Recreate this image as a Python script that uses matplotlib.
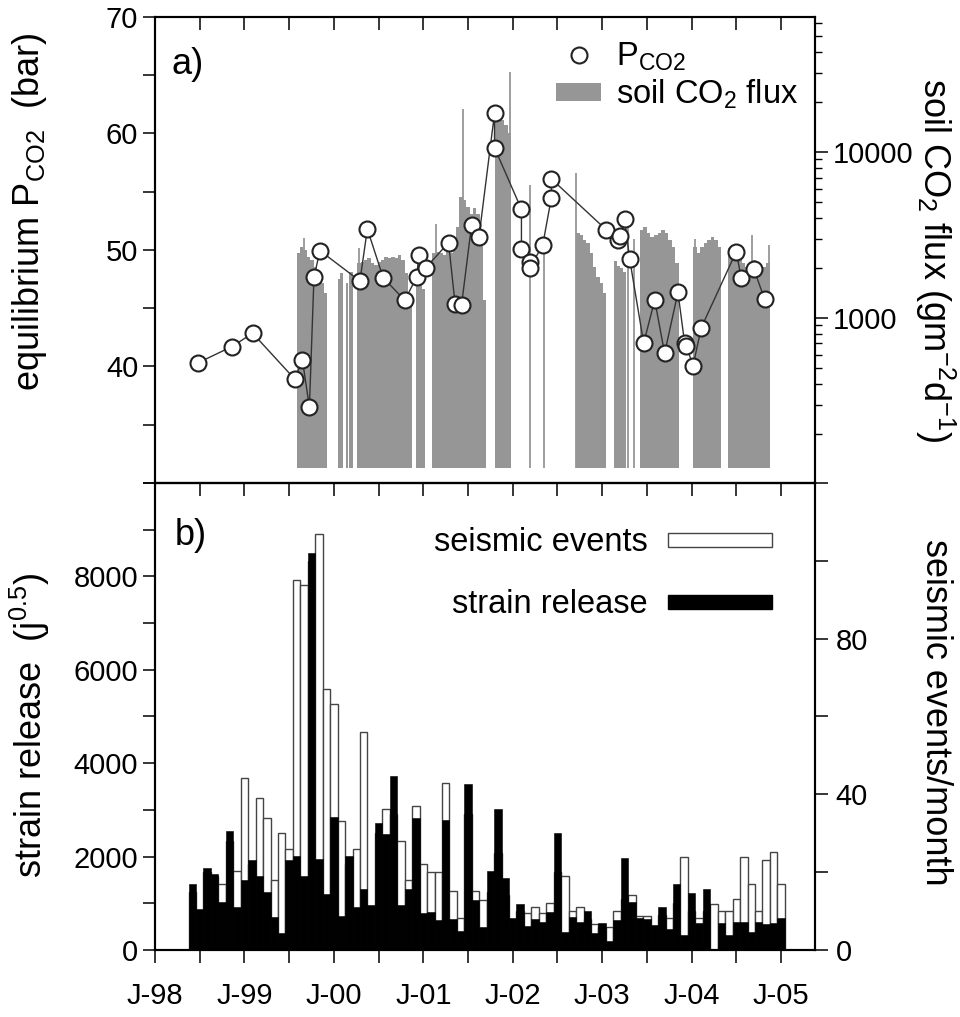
import numpy as np
import pandas as pd
import matplotlib
matplotlib.use('Agg')
import matplotlib.pyplot as plt
from matplotlib.patches import Patch
from matplotlib.lines import Line2D
from matplotlib.ticker import FixedLocator, MultipleLocator, LogLocator, NullFormatter, FuncFormatter

plt.rcParams['font.family'] = ['Liberation Sans', 'DejaVu Sans']
plt.rcParams['mathtext.fontset'] = 'custom'
plt.rcParams['mathtext.rm'] = 'Liberation Sans'
plt.rcParams['mathtext.it'] = 'Liberation Sans:italic'
plt.rcParams['mathtext.bf'] = 'Liberation Sans:bold'

# ---------------------------------------------------------------
# panel a: equilibrium PCO2 samples (decimal year, bar)
# ---------------------------------------------------------------
pco2_date = [1998.477, 1998.857, 1999.092, 1999.564, 1999.648, 1999.726, 1999.777,
             1999.844, 2000.291, 2000.374, 2000.551, 2000.793, 2000.924, 2000.952,
             2001.028, 2001.282, 2001.355, 2001.427, 2001.539, 2001.622, 2001.796,
             2001.796, 2002.097, 2002.097, 2002.190, 2002.190, 2002.335, 2002.432,
             2002.432, 2003.047, 2003.177, 2003.196, 2003.251, 2003.307, 2003.464,
             2003.587, 2003.698, 2003.847, 2003.922, 2003.941, 2004.015, 2004.108,
             2004.499, 2004.555, 2004.696, 2004.816]
pco2_val = [40.3, 41.7, 42.85, 38.9, 40.56, 36.5, 47.66,
            49.94, 47.34, 51.8, 47.62, 45.68, 47.66, 49.57,
            48.48, 50.63, 45.38, 45.25, 52.13, 51.1, 61.73,
            58.78, 53.49, 50.1, 49.0, 48.45, 50.43, 54.5,
            56.1, 51.72, 50.86, 51.23, 52.63, 49.23, 41.99,
            45.71, 41.13, 46.37, 41.99, 41.8, 40.04, 43.33,
            49.86, 47.57, 48.37, 45.77]

# soil CO2 flux (g m-2 d-1): continuous records, values read along each record
flux_start = [1999.583, 2000.041, 2000.134, 2000.171, 2000.260, 2000.913, 2001.101,
              2001.796, 2002.712, 2003.128, 2003.419, 2004.015, 2004.406]
flux_end = [1999.927, 2000.097, 2000.160, 2000.209, 2000.868, 2001.017, 2001.706,
            2001.978, 2003.047, 2003.270, 2003.858, 2004.332, 2004.872]
flux_vals = [
    [2450, 2680, 2560, 2340, 2230, 2030, 1690, 1615, 1410],
    [1720, 1850],
    [1620],
    [1900],
    [2130, 2180, 2230, 2280, 2130, 2090, 2180, 2230, 2340, 2280, 2340, 2280, 2390, 2230, 1855, 1283],
    [1580, 1770, 1500],
    [2450, 2500, 2450, 2390, 2500, 2450, 2560, 3540, 5350, 5110, 4660, 4250, 4560, 4250, 3230, 1283],
    [15800, 16500, 15500, 14500, 13000],
    [3230, 3150, 2940, 2810, 2450, 2030, 1770, 1615, 1410],
    [2200, 2050, 2000, 1900],
    [3380, 3540, 3230, 3080, 3150, 3230, 3380, 3230, 2940, 2680, 2130],
    [2680, 2450, 2680, 2810, 2940, 3080, 2940, 2680],
    [2620, 2745, 2560, 2450, 2130, 2030, 2130, 2230, 2030, 1940, 2030, 2130],
]
# single high daily readings
spike_date = [1999.665, 2000.283, 2001.147, 2001.445, 2001.966, 2002.198, 2002.346,
              2002.712, 2003.291, 2003.358, 2004.034, 2004.678, 2004.864]
spike_val = [3010, 2620, 3670, 18200, 30100, 6300, 2630,
             7470, 3540, 3000, 2970, 3150, 2745]
flux_floor = 125

# ---------------------------------------------------------------
# panel b: monthly seismicity, June 1998 - January 2005
# ---------------------------------------------------------------
first_month = '1998-06'
strain = [1419, 888, 1748, 1634, 1017, 2544, 931, 1505, 1920, 1591,
          1232, 703, 372, 1920, 2021, 1591, 8509, 1950, 1204, 2845,
          731, 2006, 931, 1305, 953, 2725, 2488, 3727, 953, 1305,
          2832, 789, 811, 645, 2774, 660, 409, 3563, 1075, 495,
          1684, 3011, 1542, 682, 989, 516, 660, 609, 811, 2510,
          387, 716, 609, 845, 372, 574, 194, 645, 1972, 1021,
          682, 667, 538, 931, 445, 1419, 323, 1219, 574, 1305,
          0, 574, 323, 609, 596, 394, 609, 559, 574, 682]
events = [15, 10, 20, 19, 17.0, 28, 20.2, 44.1, 22, 39.1,
          33.9, 18.0, 30.1, 26.0, 95.1, 93.9, 100, 106.9, 67.0, 63.1,
          33.1, 22, 25.9, 56.1, 10, 30, 36.1, 35, 28.1, 18.0,
          37.1, 22.1, 20.0, 20.0, 43.0, 15.2, 8.2, 35, 15.2, 12.9,
          15, 25, 14, 7, 10, 9.5, 11.0, 9.5, 12.0, 20,
          19.1, 10.1, 11.0, 8, 6.7, 6, 6.0, 10.1, 13, 14.0,
          8.8, 8.8, 5, 9, 8.2, 12, 23.9, 10, 8.2, 10,
          11.9, 9.9, 9.9, 13.1, 23.9, 16.9, 10.1, 23.0, 25.1, 17.0]

year_ticks = [1998, 1999, 2000, 2001, 2002, 2003, 2004, 2005]
year_labels = ['J-98', 'J-99', 'J-00', 'J-01', 'J-02', 'J-03', 'J-04', 'J-05']
pco2_ticks = [40, 50, 60, 70]
strain_ticks = [0, 2000, 4000, 6000, 8000]
events_ticks = [0, 40, 80]

FLUX_GREY = '#969696'
TICK_FS = 21
LABEL_FS = 26
LEG_FS = 23.5

months = pd.period_range(first_month, periods=len(strain), freq='M')
month_pos = np.array([m.year + (m.month - 1) / 12 for m in months])

fig = plt.figure(figsize=(9.6, 10.17), dpi=100)
ax_a = fig.add_axes([0.1615, 0.5251, 0.6875, 0.4582])
ax_f = ax_a.twinx()
ax_b = fig.add_axes([0.1615, 0.0659, 0.6875, 0.4592])
ax_e = ax_b.twinx()

# --- panel a
ax_f.set_yscale('log')
for s, e, vals in zip(flux_start, flux_end, flux_vals):
    edges = np.linspace(s, e, len(vals) + 1)
    ax_f.bar(edges[:-1], np.array(vals) - flux_floor, width=np.diff(edges),
             bottom=flux_floor, align='edge', color=FLUX_GREY, linewidth=0)
ax_f.vlines(spike_date, flux_floor, spike_val, color=FLUX_GREY, lw=1.3)
ax_f.set_ylim(101, 65000)

ax_a.plot(pco2_date, pco2_val, '-', color='#333333', lw=1.0, zorder=2)
ax_a.plot(pco2_date, pco2_val, 'o', ms=11.5, mfc='white', mec='#222222', mew=1.5, zorder=3)
ax_a.set_zorder(ax_f.get_zorder() + 1)
ax_a.patch.set_visible(False)
ax_a.set_ylim(30, 70)

# --- panel b
ax_e.bar(month_pos, events, width=1 / 12, color='white', edgecolor='#444444', linewidth=1.0)
ax_b.bar(month_pos, strain, width=1 / 12, color='black', edgecolor='black', linewidth=0.4)
ax_b.set_zorder(ax_e.get_zorder() + 1)
ax_b.patch.set_visible(False)
ax_b.set_ylim(0, 10000)
ax_e.set_ylim(0, 120)

# --- axes cosmetics
for ax in (ax_a, ax_b):
    ax.set_xlim(1998.0, 2005.38)
    ax.xaxis.set_major_locator(FixedLocator(year_ticks))
    ax.xaxis.set_minor_locator(FixedLocator([y + 0.5 for y in year_ticks]))
for ax in (ax_a, ax_f, ax_b, ax_e):
    for sp in ax.spines.values():
        sp.set_linewidth(1.5)

tick_kw = dict(length=9, width=1.1, labelsize=TICK_FS)
ax_a.yaxis.set_major_locator(FixedLocator(pco2_ticks))
ax_a.yaxis.set_minor_locator(MultipleLocator(5))
ax_a.tick_params(axis='y', which='both', direction='out', pad=3, **tick_kw)
ax_a.tick_params(axis='x', which='both', bottom=False, top=True, direction='in',
                 labelbottom=False, length=9, width=1.1)

ax_f.yaxis.set_major_locator(LogLocator(base=10))
ax_f.yaxis.set_minor_locator(LogLocator(base=10, subs=np.arange(2, 10)))
ax_f.yaxis.set_major_formatter(FuncFormatter(lambda v, p: '%d' % v))
ax_f.yaxis.set_minor_formatter(NullFormatter())
ax_f.tick_params(axis='y', which='major', direction='out', pad=4, **tick_kw)
ax_f.tick_params(axis='y', which='minor', direction='out', length=5, width=1.0)

ax_b.yaxis.set_major_locator(FixedLocator(strain_ticks))
ax_b.yaxis.set_minor_locator(MultipleLocator(1000))
ax_b.tick_params(axis='y', which='both', direction='out', pad=3, **tick_kw)
ax_b.xaxis.set_ticklabels(year_labels)
ax_b.tick_params(axis='x', which='both', bottom=True, top=False, direction='out',
                 pad=14, **tick_kw)

ax_e.yaxis.set_major_locator(FixedLocator(events_ticks))
ax_e.yaxis.set_minor_locator(MultipleLocator(20))
ax_e.tick_params(axis='y', which='both', direction='out', pad=6, **tick_kw)
ax_e.xaxis.set_visible(True)
ax_e.tick_params(axis='x', which='both', bottom=False, top=True, direction='in',
                 labelbottom=False, labeltop=False, length=9, width=1.1)

# --- panel letters and axis titles
ax_a.text(0.025, 0.935, 'a)', transform=ax_a.transAxes, fontsize=26, va='top')
ax_b.text(0.03, 0.925, 'b)', transform=ax_b.transAxes, fontsize=26, va='top')

fig.text(0.031, 0.7915, r'equilibrium P$_{\mathrm{CO2}}$  (bar)', rotation=90,
         ha='center', va='center', fontsize=LABEL_FS)
fig.text(0.031, 0.287, r'strain release  (j$^{0.5}$)', rotation=90,
         ha='center', va='center', fontsize=LABEL_FS)
fig.text(0.974, 0.744, r'soil CO$_2$ flux (gm$^{-2}$d$^{-1}$)', rotation=270,
         ha='center', va='center', fontsize=LABEL_FS)
fig.text(0.974, 0.30, 'seismic events/month', rotation=270,
         ha='center', va='center', fontsize=LABEL_FS)

# --- legends
h_a = [Line2D([], [], ls='none', marker='o', ms=11.5, mfc='white', mec='#222222', mew=1.5),
       Patch(facecolor=FLUX_GREY, edgecolor='none')]
ax_a.legend(h_a, [r'P$_{\mathrm{CO2}}$', r'soil CO$_2$ flux'], loc='upper right',
            bbox_to_anchor=(0.975, 0.95), frameon=False, fontsize=LEG_FS,
            handlelength=1.4, handleheight=0.45, handletextpad=0.45,
            labelspacing=0.15, borderaxespad=0, borderpad=0)

h_b = [Patch(facecolor='white', edgecolor='#444444', linewidth=1.0),
       Patch(facecolor='black', edgecolor='black')]
ax_b.legend(h_b, ['seismic events', 'strain release'], loc='upper right',
            bbox_to_anchor=(0.935, 0.905), frameon=False, fontsize=LEG_FS,
            markerfirst=False, handlelength=3.2, handleheight=0.28, handletextpad=0.6,
            labelspacing=0.95, borderaxespad=0, borderpad=0)

fig.savefig('out.png', dpi=100, facecolor='white')
